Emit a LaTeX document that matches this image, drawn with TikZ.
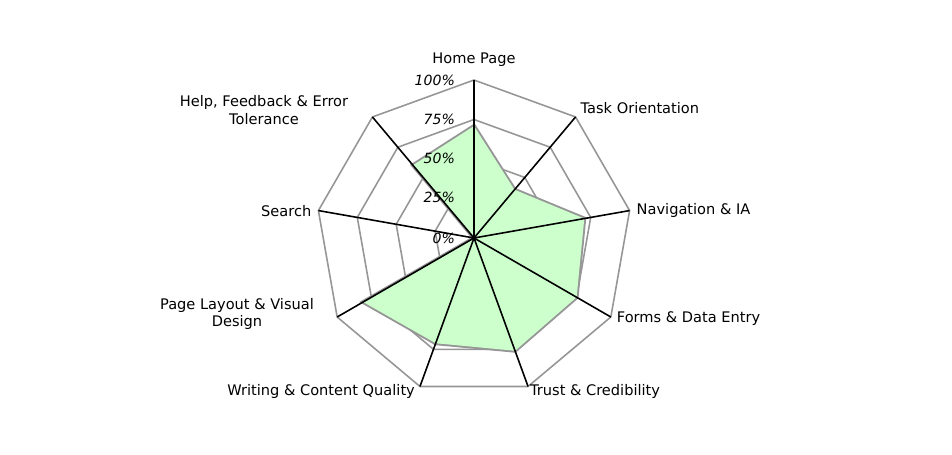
\documentclass[tikz,border=0pt]{standalone}
\usepackage{fontspec}
\setmainfont{DejaVu Sans}
\usetikzlibrary{calc}
\definecolor{mygreen}{RGB}{204,255,204}
\definecolor{mygray}{RGB}{150,150,150}

\begin{document}
\begin{tikzpicture}

\tikzstyle{ring} = [draw=mygray, line width=0.9]
\tikzstyle{spoke} = [draw=black, line width=0.9]
\tikzstyle{pct} = [anchor=east, font=\fontsize{8}{9}\selectfont\itshape, inner sep=1]
\tikzstyle{lbl} = [font=\fontsize{8.3}{10}\selectfont, inner sep=1, align=center]

\useasboundingbox (0,0) rectangle (19.04,9.08);
\coordinate (c) at (9.48,4.32);

% rings
\foreach \r in {0.79,1.58,2.37,3.16}{
  \draw[ring] ($(c)+(90:\r)$) \foreach \a in {50,10,...,-270}{ -- ($(c)+(\a:\r)$)} -- cycle;
}

% data
\draw[mygray, line width=2.2, shift={(0.02,-0.02)}] ($(c)+(90:2.24)$) -- ($(c)+(50:1.26)$) -- ($(c)+(10:2.24)$)
 -- ($(c)+(-30:2.37)$) -- ($(c)+(-70:2.40)$) -- ($(c)+(-110:2.24)$) -- ($(c)+(-150:2.56)$)
 -- (c) -- ($(c)+(130:1.90)$) -- cycle;
\fill[mygreen] ($(c)+(90:2.24)$) -- ($(c)+(50:1.26)$) -- ($(c)+(10:2.24)$)
 -- ($(c)+(-30:2.37)$) -- ($(c)+(-70:2.40)$) -- ($(c)+(-110:2.24)$) -- ($(c)+(-150:2.56)$)
 -- (c) -- ($(c)+(130:1.90)$) -- cycle;

% spokes
\foreach \a/\n in {90/home,50/task,10/nav,-30/forms,-70/trust,-110/writ,-150/layout,170/search,130/help}{
  \coordinate (\n) at ($(c)+(\a:3.16)$);
  \draw[spoke] (c) -- (\n);
}

% scale
\node[pct] (p0) at ($(c)+(-0.34,0)$) {0\%};
\node[pct] (p25) at ($(c)+(-0.34,0.82)$) {25\%};
\node[pct] (p50) at ($(c)+(-0.34,1.6)$) {50\%};
\node[pct] (p75) at ($(c)+(-0.34,2.38)$) {75\%};
\node[pct] (p100) at ($(c)+(-0.34,3.16)$) {100\%};

% labels
\node[lbl, anchor=south] (lhome) at ($(home)+(0,0.22)$) {Home Page};
\node[lbl, anchor=west] (ltask) at ($(task)+(0.06,0.18)$) {Task Orientation};
\node[lbl, anchor=west] (lnav) at ($(nav)+(0.1,0)$) {Navigation \& IA};
\node[lbl, anchor=west] (lforms) at ($(forms)+(0.08,-0.04)$) {Forms \& Data Entry};
\node[lbl, anchor=west] (ltrust) at ($(trust)+(0,-0.1)$) {Trust \& Credibility};
\node[lbl, anchor=east] (lwrit) at ($(writ)+(-0.06,-0.1)$) {Writing \& Content Quality};
\node[lbl] (llayout) at (4.74,2.8) {Page Layout \& Visual\\Design};
\node[lbl, anchor=east] (lsearch) at ($(search)+(-0.1,0)$) {Search};
\node[lbl] (lhelp) at (5.28,6.88) {Help, Feedback \& Error\\Tolerance};

\end{tikzpicture}
\end{document}
